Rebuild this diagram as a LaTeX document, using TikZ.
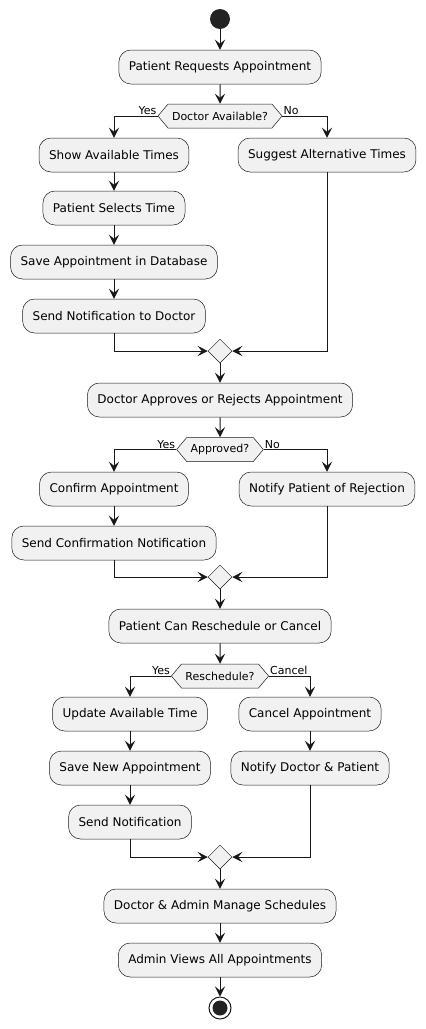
\documentclass[tikz,border=0pt]{standalone}
\usepackage{fontspec}
\setmainfont{DejaVu Sans}
\usetikzlibrary{arrows.meta, shapes.geometric, shapes.symbols}
\definecolor{boxfill}{HTML}{F1F1F1}
\definecolor{lineclr}{HTML}{181818}
\definecolor{dotclr}{HTML}{222222}

\begin{document}
\begin{tikzpicture}[x=1pt, y=-1pt,
    font=\fontsize{12pt}{14pt}\selectfont,
    act/.style={rectangle, rounded corners=12pt, draw=lineclr, line width=0.5pt, fill=boxfill, minimum height=34pt, inner xsep=10pt},
    cond/.style={signal, signal to=east and west, signal pointer angle=100, draw=lineclr, line width=0.5pt, fill=boxfill, minimum height=24pt, inner xsep=4pt, inner ysep=2pt, font=\fontsize{11pt}{13pt}\selectfont},
    merge/.style={diamond, draw=lineclr, line width=0.5pt, fill=boxfill, minimum width=24pt, minimum height=24pt, inner sep=0pt},
    lbl/.style={inner sep=1pt, font=\fontsize{11pt}{13pt}\selectfont},
    arr/.style={draw=lineclr, line width=1pt, -{Stealth[length=10pt, width=10pt, inset=4pt]}},
    startnode/.style={circle, fill=dotclr, minimum size=20pt, inner sep=0pt},
    stopnode/.style={circle, draw=lineclr, line width=1pt, fill=white, minimum size=22pt, inner sep=0pt,
        path picture={\fill[dotclr] (path picture bounding box.center) circle (7.5pt);}}]
    \useasboundingbox (0,0) rectangle (426,1029);

    % Request
    \node[startnode] (START) at (220,19) {};
    \node[act] (REQ) at (220,67) {Patient Requests Appointment};
    \node[cond] (AVAIL) at (220,116) {Doctor Available?};

    % Doctor available
    \node[act] (SHOW) at (114,155) {Show Available Times};
    \node[act] (SELECT) at (114,208) {Patient Selects Time};
    \node[act] (SAVE) at (114,262) {Save Appointment in Database};
    \node[act] (NOTIFY) at (114,316) {Send Notification to Doctor};
    \node[act] (SUGGEST) at (327,155) {Suggest Alternative Times};
    \node[merge] (MERGE1) at (220,351) {};

    % Approval
    \node[act] (DECIDE) at (220,400) {Doctor Approves or Rejects Appointment};
    \node[cond] (APPR) at (220,449.5) {Approved?};
    \node[act] (CONFIRM) at (114,489) {Confirm Appointment};
    \node[act] (SENDCONF) at (114,543) {Send Confirmation Notification};
    \node[act] (REJECT) at (327,489) {Notify Patient of Rejection};
    \node[merge] (MERGE2) at (220,577) {};

    % Reschedule or cancel
    \node[act] (CHANGE) at (220,626) {Patient Can Reschedule or Cancel};
    \node[cond] (RESCH) at (220,676) {Reschedule?};
    \node[act] (UPDATE) at (130,714) {Update Available Time};
    \node[act] (SAVENEW) at (130,768) {Save New Appointment};
    \node[act] (SENDNOTE) at (130,822) {Send Notification};
    \node[act] (CANCEL) at (310,714) {Cancel Appointment};
    \node[act] (NOTIFYBOTH) at (310,768) {Notify Doctor \& Patient};
    \node[merge] (MERGE3) at (220,857) {};

    % Admin
    \node[act] (MANAGE) at (220,906) {Doctor \& Admin Manage Schedules};
    \node[act] (VIEW) at (220,960) {Admin Views All Appointments};
    \node[stopnode] (STOP) at (220,1008) {};

    % Branch labels
    \node[lbl, anchor=south east] (YES1) at (AVAIL.west) {Yes};
    \node[lbl, anchor=south west] (NO1) at (AVAIL.east) {No};
    \node[lbl, anchor=south east] (YES2) at (APPR.west) {Yes};
    \node[lbl, anchor=south west] (NO2) at (APPR.east) {No};
    \node[lbl, anchor=south east] (YES3) at (RESCH.west) {Yes};
    \node[lbl, anchor=south west] (CANC3) at (RESCH.east) {Cancel};

    % Connections
    \foreach \a/\b in {START/REQ, REQ/AVAIL, SHOW/SELECT, SELECT/SAVE, SAVE/NOTIFY,
                       MERGE1/DECIDE, DECIDE/APPR, CONFIRM/SENDCONF, MERGE2/CHANGE, CHANGE/RESCH,
                       UPDATE/SAVENEW, SAVENEW/SENDNOTE, CANCEL/NOTIFYBOTH, MERGE3/MANAGE,
                       MANAGE/VIEW, VIEW/STOP} {
        \draw[arr] (\a) -- (\b);
    }

    \draw[arr] (AVAIL.west) -| (SHOW.north);
    \draw[arr] (AVAIL.east) -| (SUGGEST.north);
    \draw[arr] (NOTIFY.south) |- (MERGE1.west);
    \draw[arr] (SUGGEST.south) |- (MERGE1.east);

    \draw[arr] (APPR.west) -| (CONFIRM.north);
    \draw[arr] (APPR.east) -| (REJECT.north);
    \draw[arr] (SENDCONF.south) |- (MERGE2.west);
    \draw[arr] (REJECT.south) |- (MERGE2.east);

    \draw[arr] (RESCH.west) -| (UPDATE.north);
    \draw[arr] (RESCH.east) -| (CANCEL.north);
    \draw[arr] (SENDNOTE.south) |- (MERGE3.west);
    \draw[arr] (NOTIFYBOTH.south) |- (MERGE3.east);
\end{tikzpicture}
\end{document}
